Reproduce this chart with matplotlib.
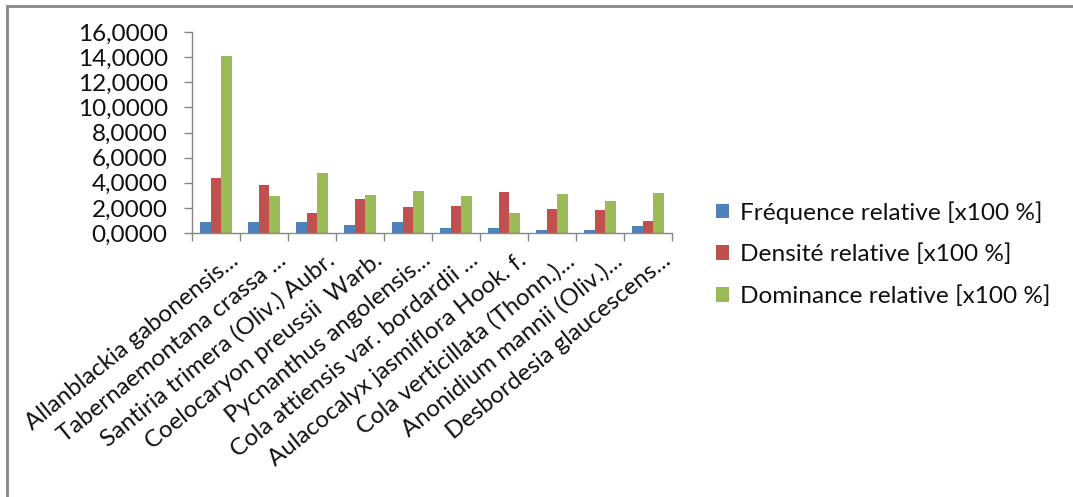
import numpy as np
import matplotlib
matplotlib.use('Agg')
import matplotlib.pyplot as plt
from matplotlib.lines import Line2D
from matplotlib.ticker import FuncFormatter, FixedLocator
from matplotlib.transforms import ScaledTranslation

plt.rcParams['font.family'] = ['Lato', 'DejaVu Sans']

especes = ['Allanblackia gabonensis...', 'Tabernaemontana crassa ...',
           'Santiria trimera (Oliv.) Aubr.', 'Coelocaryon preussii  Warb.',
           'Pycnanthus angolensis...', 'Cola attiensis var. bordardii ...',
           'Aulacocalyx jasmiflora Hook. f.', 'Cola verticillata (Thonn.)...',
           'Anonidium mannii (Oliv.)...', 'Desbordesia glaucescens...']
frequence = [0.85, 0.85, 0.85, 0.63, 0.85, 0.40, 0.40, 0.21, 0.21, 0.56]
densite = [4.39, 3.81, 1.59, 2.72, 2.04, 2.12, 3.28, 1.88, 1.80, 0.93]
dominance = [14.10, 2.91, 4.76, 3.02, 3.36, 2.91, 1.59, 3.10, 2.57, 3.17]
series = ['Fréquence relative [x100 %]', 'Densité relative [x100 %]',
          'Dominance relative [x100 %]']
couleurs = ['#4F81BD', '#C0504D', '#9BBB59']

W, H = 1073, 497
fig = plt.figure(figsize=(W / 100, H / 100), dpi=100)
# plot area in pixels: x 192..672, y 32..233
ax = fig.add_axes([192 / W, 1 - 233 / H, 480 / W, 201 / H])

x = np.arange(len(especes))
w = 0.222
for k, (vals, lab, col) in enumerate(zip([frequence, densite, dominance], series, couleurs)):
    ax.bar(x + (k - 1) * w, vals, width=w, color=col, label=lab, zorder=2)

ax.set_xlim(-0.5, len(especes) - 0.5)
ax.set_ylim(0, 16)
ax.set_yticks(np.arange(0, 17, 2))
ax.yaxis.set_major_formatter(FuncFormatter(lambda v, p: f'{v:.4f}'.replace('.', ',')))

# ticks between categories, labels centred on the groups
ax.xaxis.set_major_locator(FixedLocator(np.arange(-0.5, len(especes), 1.0)))
ax.xaxis.set_minor_locator(FixedLocator(x))
ax.xaxis.set_major_formatter(FuncFormatter(lambda v, p: ''))
ax.set_xticklabels(especes, minor=True, rotation=39, ha='right', rotation_mode='anchor')
ax.tick_params(axis='x', which='minor', length=0, pad=6, labelsize=17.3)
ax.tick_params(axis='x', which='major', length=5.5, color='#868686', width=1)
ax.tick_params(axis='y', length=5.5, color='#868686', width=1, labelsize=17.5, pad=12,
               labelcolor='#111111')
# nudge the slanted labels right/down a little
decal = ScaledTranslation(0.13, -0.08, fig.dpi_scale_trans)
for t in ax.get_xticklabels(minor=True):
    t.set_transform(t.get_transform() + decal)
    t.set_color('#111111')

for s in ['top', 'right']:
    ax.spines[s].set_visible(False)
for s in ['left', 'bottom']:
    ax.spines[s].set_color('#868686')
    ax.spines[s].set_linewidth(1)

leg = ax.legend(loc='center left', bbox_to_anchor=(716 / W, 1 - 254 / H), bbox_transform=fig.transFigure,
                frameon=False, fontsize=17.6, handlelength=0.55, handleheight=0.55,
                handletextpad=0.45, labelspacing=0.82, borderpad=0, borderaxespad=0)
for t in leg.get_texts():
    t.set_color('#111111')

# chart border
fig.add_artist(Line2D([7 / W, 1.01], [1 - 5.5 / H, 1 - 5.5 / H], color='#888888', lw=2, transform=fig.transFigure))
fig.add_artist(Line2D([7 / W, 7 / W], [-0.01, 1 - 5.5 / H], color='#888888', lw=2, transform=fig.transFigure))

fig.savefig('out.png', dpi=100)
